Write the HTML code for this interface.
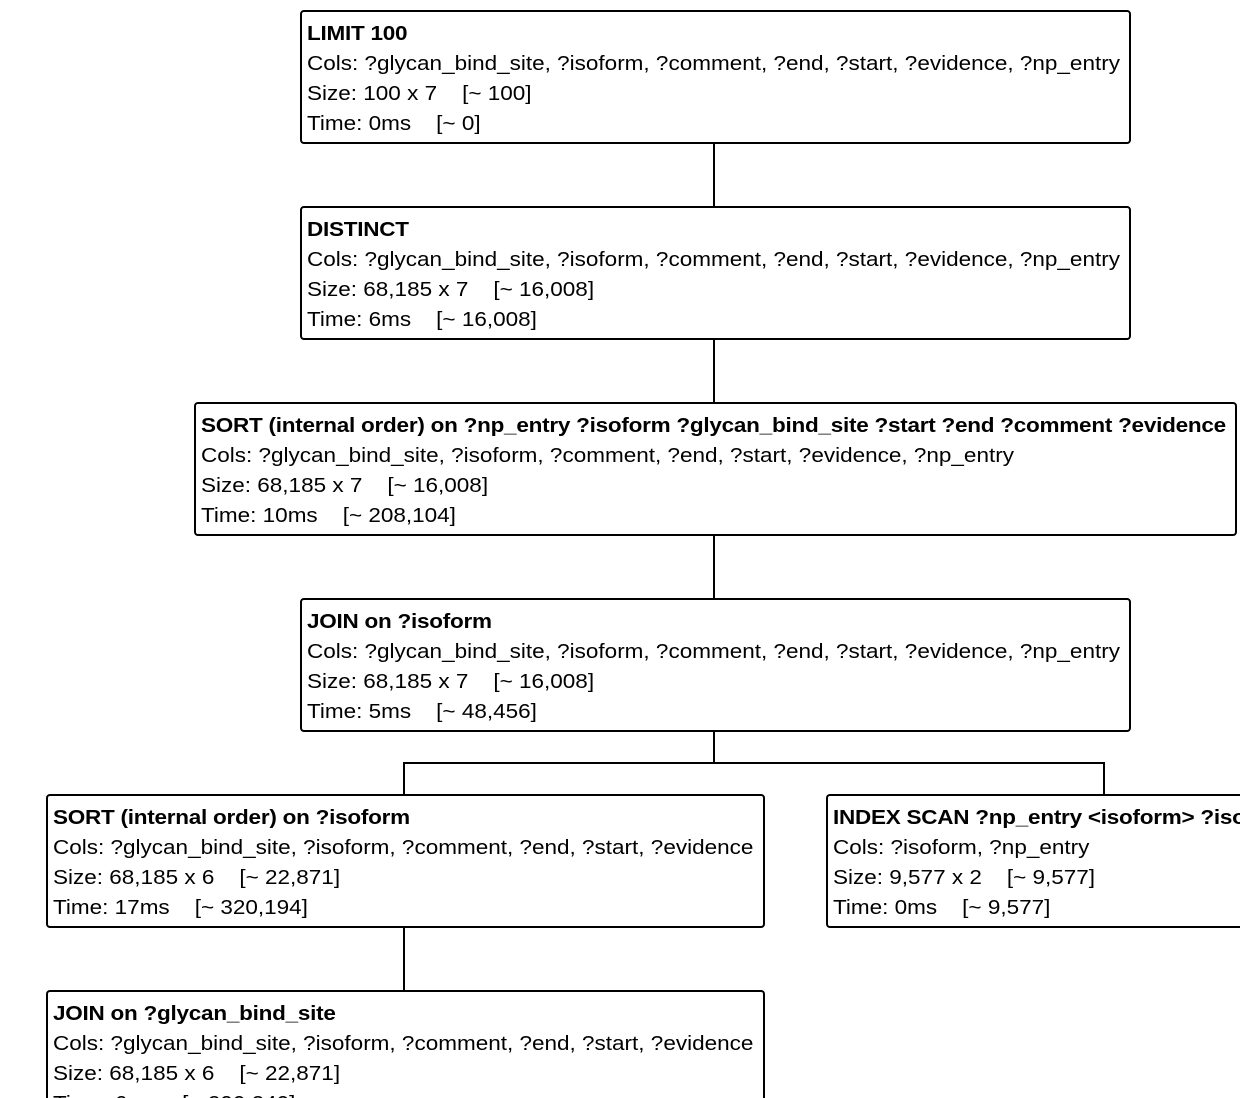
<!DOCTYPE html>
<html><head><style>
html,body{margin:0;padding:0;background:#fff;width:1240px;height:1098px;overflow:hidden;position:relative}
.b{position:absolute;box-sizing:border-box;border:2px solid #000;border-radius:4px;background:#fff;padding:7px 0 0 5px;font-family:"Liberation Sans",Helvetica,Arial,sans-serif;font-size:20px;line-height:30px;color:#000;white-space:nowrap;overflow:hidden;height:134px}
.b div{transform:scaleX(1.125);transform-origin:0 0}
.b b{font-weight:bold;letter-spacing:-0.22px}
.l{position:absolute;background:#000}
</style></head><body>
<div class="l" style="left:713px;top:144px;width:2px;height:62px"></div>
<div class="l" style="left:713px;top:340px;width:2px;height:62px"></div>
<div class="l" style="left:713px;top:536px;width:2px;height:62px"></div>
<div class="l" style="left:713px;top:732px;width:2px;height:31px"></div>
<div class="l" style="left:403px;top:762px;width:702px;height:2px"></div>
<div class="l" style="left:403px;top:762px;width:2px;height:32px"></div>
<div class="l" style="left:1103px;top:762px;width:2px;height:32px"></div>
<div class="l" style="left:403px;top:928px;width:2px;height:62px"></div>

<div class="b" style="left:300px;top:10px;width:831px"><div><b>LIMIT 100</b><br>Cols: ?glycan_bind_site, ?isoform, ?comment, ?end, ?start, ?evidence, ?np_entry<br>Size: 100 x 7&nbsp;&nbsp;&nbsp;&nbsp;[~ 100]<br>Time: 0ms&nbsp;&nbsp;&nbsp;&nbsp;[~ 0]</div></div>
<div class="b" style="left:300px;top:206px;width:831px"><div><b>DISTINCT</b><br>Cols: ?glycan_bind_site, ?isoform, ?comment, ?end, ?start, ?evidence, ?np_entry<br>Size: 68,185 x 7&nbsp;&nbsp;&nbsp;&nbsp;[~ 16,008]<br>Time: 6ms&nbsp;&nbsp;&nbsp;&nbsp;[~ 16,008]</div></div>
<div class="b" style="left:194px;top:402px;width:1043px"><div><b>SORT (internal order) on ?np_entry ?isoform ?glycan_bind_site ?start ?end ?comment ?evidence</b><br>Cols: ?glycan_bind_site, ?isoform, ?comment, ?end, ?start, ?evidence, ?np_entry<br>Size: 68,185 x 7&nbsp;&nbsp;&nbsp;&nbsp;[~ 16,008]<br>Time: 10ms&nbsp;&nbsp;&nbsp;&nbsp;[~ 208,104]</div></div>
<div class="b" style="left:300px;top:598px;width:831px"><div><b>JOIN on ?isoform</b><br>Cols: ?glycan_bind_site, ?isoform, ?comment, ?end, ?start, ?evidence, ?np_entry<br>Size: 68,185 x 7&nbsp;&nbsp;&nbsp;&nbsp;[~ 16,008]<br>Time: 5ms&nbsp;&nbsp;&nbsp;&nbsp;[~ 48,456]</div></div>
<div class="b" style="left:46px;top:794px;width:719px"><div><b>SORT (internal order) on ?isoform</b><br>Cols: ?glycan_bind_site, ?isoform, ?comment, ?end, ?start, ?evidence<br>Size: 68,185 x 6&nbsp;&nbsp;&nbsp;&nbsp;[~ 22,871]<br>Time: 17ms&nbsp;&nbsp;&nbsp;&nbsp;[~ 320,194]</div></div>
<div class="b" style="left:826px;top:794px;width:414px;border-right:none;border-radius:4px 0 0 4px"><div><b>INDEX SCAN ?np_entry &lt;isoform&gt; ?iso</b><br>Cols: ?isoform, ?np_entry<br>Size: 9,577 x 2&nbsp;&nbsp;&nbsp;&nbsp;[~ 9,577]<br>Time: 0ms&nbsp;&nbsp;&nbsp;&nbsp;[~ 9,577]</div></div>
<div class="b" style="left:46px;top:990px;width:719px;height:108px;border-bottom:none;border-radius:4px 4px 0 0"><div><b>JOIN on ?glycan_bind_site</b><br>Cols: ?glycan_bind_site, ?isoform, ?comment, ?end, ?start, ?evidence<br>Size: 68,185 x 6&nbsp;&nbsp;&nbsp;&nbsp;[~ 22,871]<br>Time: 6ms&nbsp;&nbsp;&nbsp;&nbsp;[~ 290,240]</div></div>
</body></html>
